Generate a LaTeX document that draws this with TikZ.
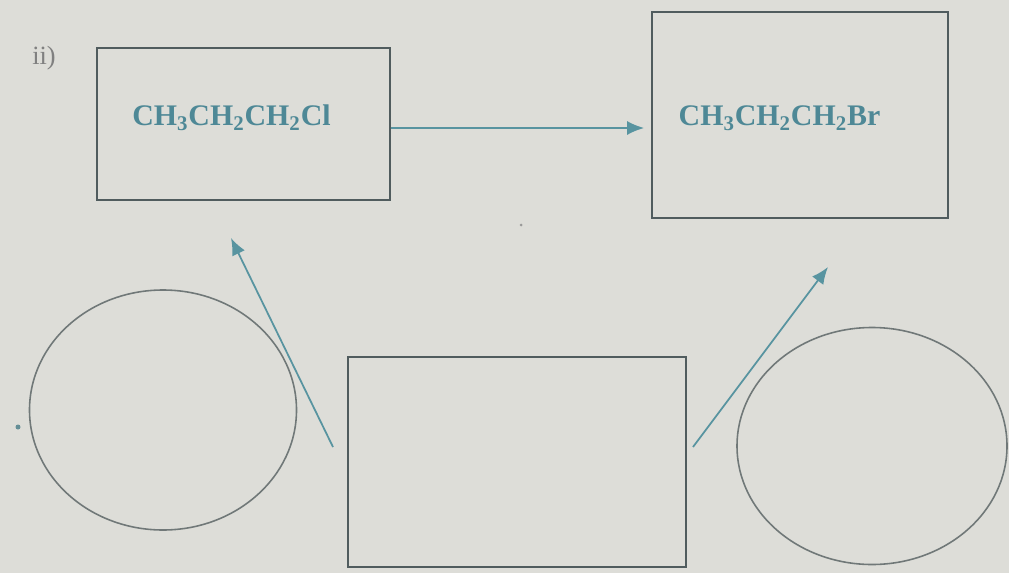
\documentclass[tikz,border=0pt]{standalone}
\usepackage{fontspec}
\setmainfont{Liberation Serif}
\usetikzlibrary{shapes.geometric,arrows.meta}
\definecolor{paper}{RGB}{221,221,216}
\definecolor{boxline}{RGB}{80,92,94}
\definecolor{teal}{RGB}{88,148,160}
\definecolor{chem}{RGB}{78,136,150}
\definecolor{ringline}{RGB}{112,120,120}
\tikzset{box/.style={draw=boxline, line width=1pt, minimum width=#1, inner sep=0pt},
         ring/.style={draw=ringline, line width=0.9pt, ellipse, inner sep=0pt},
         formula/.style={text=chem, font=\fontsize{17}{20}\selectfont\bfseries},
         react/.style={draw=teal, line width=1pt, -{Latex[length=3.4mm,width=2.8mm]}}}

\begin{document}
\begin{tikzpicture}
   \fill[paper] (0,0) rectangle (20.18,-11.46);
   \useasboundingbox (0,0) rectangle (20.18,-11.46);
   % part label
   \node[text=gray, font=\fontsize{15}{18}\selectfont] (part) at (0.88,-1.16) {ii)};
   % the two given compounds
   \node[box=5.86cm, minimum height=3.04cm] (cl) at (4.87,-2.48) {};
   \node[formula] (clname) at (4.63,-2.36) {CH\textsubscript{3}CH\textsubscript{2}CH\textsubscript{2}Cl};
   \node[box=5.92cm, minimum height=4.12cm] (br) at (16.00,-2.30) {};
   \node[formula] (brname) at (15.59,-2.36) {CH\textsubscript{3}CH\textsubscript{2}CH\textsubscript{2}Br};
   % empty answer spaces
   \node[ring, minimum width=5.34cm, minimum height=4.80cm] (ringl) at (3.26,-8.20) {};
   \node[box=6.76cm, minimum height=4.20cm] (mid) at (10.34,-9.24) {};
   \node[ring, minimum width=5.40cm, minimum height=4.74cm] (ringr) at (17.44,-8.92) {};
   % arrows
   \coordinate (tl) at (6.66,-8.94);
   \coordinate (hl) at (4.62,-4.76);
   \coordinate (tr) at (13.86,-8.94);
   \coordinate (hr) at (16.56,-5.34);
   \coordinate (cr) at ([yshift=-0.08cm]cl.east);
   \draw[react, shorten >=0.14cm] (cr) -- (br.west |- cr);
   \draw[react] (tl) -- (hl);
   \draw[react] (tr) -- (hr);
   % specks
   \fill[teal!70!gray] (0.36,-8.54) circle (0.05);
   \fill[gray!80] (10.42,-4.50) circle (0.03);
\end{tikzpicture}
\end{document}
